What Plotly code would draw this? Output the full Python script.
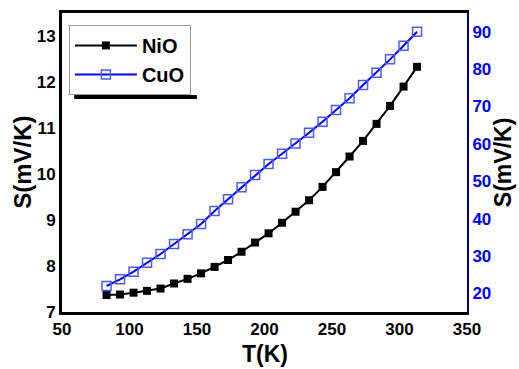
import plotly.graph_objects as go

T = [83, 93, 103, 113, 123, 133, 143, 153, 163, 173, 183, 193,
     203, 213, 223, 233, 243, 253, 263, 273, 283, 293, 303, 313]
nio = [7.37, 7.38, 7.42, 7.46, 7.51, 7.62, 7.72, 7.84, 7.98, 8.13, 8.31, 8.51,
       8.71, 8.94, 9.18, 9.43, 9.72, 10.04, 10.38, 10.72, 11.09, 11.48, 11.90, 12.33]
cuo = [21.96, 23.75, 25.79, 28.20, 30.52, 33.19, 35.78, 38.54, 42.02, 45.15, 48.36, 51.65,
       54.6, 57.35, 60.1, 62.97, 65.9, 69.05, 72.18, 75.73, 79.03, 82.6, 86.25, 90.0]

x_ticks = [50, 100, 150, 200, 250, 300, 350]
y_ticks = [7, 8, 9, 10, 11, 12, 13]
y2_ticks = [20, 30, 40, 50, 60, 70, 80, 90]

FONT = "Liberation Sans, Arial, sans-serif"

fig = go.Figure()
fig.add_trace(go.Scatter(
    x=T, y=nio, name="<b>NiO</b>", mode="lines+markers",
    line=dict(color="black", width=2),
    marker=dict(symbol="square", size=8, color="black"),
))
fig.add_trace(go.Scatter(
    x=T, y=cuo, name="<b>CuO</b>", mode="lines+markers", yaxis="y2",
    line=dict(color="#0000ff", width=2),
    marker=dict(symbol="square-open", size=9, color="#4a5cff", line=dict(width=1.5)),
))

fig.update_layout(
    width=519, height=369,
    margin=dict(l=62, r=52, t=13, b=57, autoexpand=False),
    paper_bgcolor="white", plot_bgcolor="white",
    font=dict(family=FONT, color="black"),
    showlegend=True,
    legend=dict(
        x=0.017, y=0.726, xanchor="left", yanchor="bottom",
        bordercolor="#999999", borderwidth=1, bgcolor="white",
        font=dict(size=20, family=FONT, color="black"),
        tracegroupgap=0, itemwidth=62,
    ),
    xaxis=dict(
        range=[50, 350], tickvals=x_ticks, ticktext=[f"<b>{v}</b>" for v in x_ticks],
        showgrid=False, zeroline=False, showline=True, linewidth=3, linecolor="black",
        mirror=True, ticks="", tickfont=dict(size=17), automargin=False,
    ),
    yaxis=dict(
        range=[7, 13.5], tickvals=y_ticks, ticktext=[f"<b>{v}</b>" for v in y_ticks],
        showgrid=False, zeroline=False, showline=True, linewidth=3, linecolor="black",
        ticks="", tickfont=dict(size=17), automargin=False,
    ),
    yaxis2=dict(
        range=[15, 95], tickvals=y2_ticks, ticktext=[f"<b>{v}</b>" for v in y2_ticks],
        overlaying="y", side="right",
        showgrid=False, zeroline=False, showline=True, linewidth=2, linecolor="#00008b",
        ticks="", tickfont=dict(size=17, color="#0000ff"), automargin=False,
    ),
    annotations=[
        dict(text="<b>T(K)</b>", xref="paper", yref="paper", x=0.5, y=-0.14,
             xanchor="center", yanchor="middle", showarrow=False, font=dict(size=23)),
        dict(text="<b>S(mV/K)</b>", xref="paper", yref="paper", x=-0.098, y=0.5,
             xanchor="center", yanchor="middle", showarrow=False, textangle=-90,
             font=dict(size=24)),
        dict(text="<b>S(mV/K)</b>", xref="paper", yref="paper", x=1.088, y=0.5,
             xanchor="center", yanchor="middle", showarrow=False, textangle=-90,
             font=dict(size=23)),
    ],
    shapes=[dict(
        type="rect", xref="paper", yref="paper",
        x0=0.030, x1=0.333, y0=0.712, y1=0.726,
        fillcolor="black", line=dict(width=0), layer="below",
    )],
)

fig.write_html("out.html", config={"displayModeBar": False},
               post_script="document.body.style.margin='0px';")
